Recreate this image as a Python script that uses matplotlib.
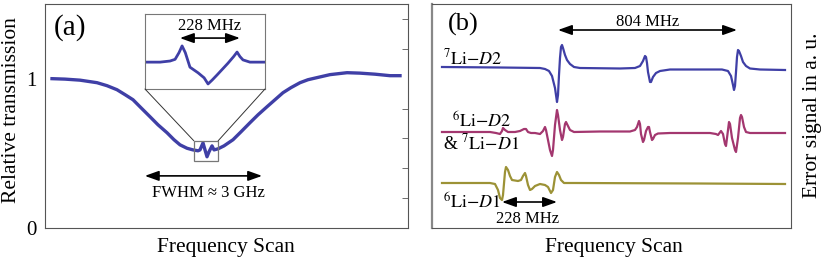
import matplotlib
matplotlib.use("Agg")
import matplotlib.pyplot as plt
from matplotlib.patches import Rectangle, ConnectionPatch

plt.rcParams["font.family"] = ["Liberation Serif", "DejaVu Serif"]
plt.rcParams["mathtext.fontset"] = "stix"

# ---- panel (a): Doppler-broadened transmission, scan in a.u. (0-100)
scan_a = [1.93, 5.51, 9.64, 14.33, 17.08, 19.83, 22.04, 24.24, 26.45, 28.93,
          31.13, 33.61, 35.54, 37.19, 39.12, 40.77, 42.15, 42.70, 43.53, 44.08,
          44.63, 45.18, 45.45, 46.01, 46.56, 47.66, 49.31, 51.79, 53.99, 56.47,
          58.68, 61.16, 63.36, 65.56, 67.77, 70.25, 72.45, 74.93, 78.51, 83.20,
          86.78, 90.91, 95.04, 97.80]
trans_a = [1.000, 0.997, 0.990, 0.973, 0.953, 0.926, 0.893, 0.859, 0.805, 0.745,
           0.691, 0.638, 0.591, 0.557, 0.534, 0.523, 0.517, 0.523, 0.570, 0.523,
           0.477, 0.510, 0.523, 0.550, 0.523, 0.530, 0.550, 0.591, 0.644, 0.705,
           0.758, 0.812, 0.859, 0.906, 0.940, 0.973, 0.993, 1.007, 1.027, 1.040,
           1.037, 1.030, 1.020, 1.020]

# zoomed sub-Doppler feature (inset)
inset_scan = [41.11, 41.84, 42.40, 42.68, 42.90, 43.07, 43.25, 43.51, 43.96,
              44.30, 44.52, 44.75, 45.02, 45.63, 45.95, 46.14, 46.30, 46.47,
              46.86, 47.64]
inset_trans = [0.498, 0.498, 0.500, 0.503, 0.515, 0.527, 0.515, 0.489, 0.479,
               0.470, 0.459, 0.466, 0.475, 0.496, 0.508, 0.516, 0.508, 0.502,
               0.498, 0.498]
zoom_x, zoom_y = (41.0, 47.7), (0.450, 0.584)

# ---- panel (b): error signals, scan index, signal relative to each baseline
d2_7_x = [10, 68, 108, 113, 117, 120, 123, 125, 126, 127, 128, 129, 130, 131, 133,
          135, 138, 142, 148, 188, 203, 208, 211, 213, 214, 215, 216, 218, 219,
          221, 224, 228, 238, 290, 296, 299, 301, 302, 303, 304, 305, 306, 307,
          309, 311, 314, 318, 328, 353]
d2_7_s = [1, 0.5, 0, -1, -3, -8, -20, -34, -27, -7, 10, 21, 23, 20, 13, 8, 4, 1, 0,
          -0.5, 0, 2, 7, 12, 11, 5, -4, -14, -14, -9, -5, -3, -1.5, -1.5, -3, -8,
          -17, -22, -18, -4, 11, 18, 17, 12, 6, 2, -0.5, -1.5, -2]

d2_6_x = [10, 58, 64, 68, 70, 71, 73, 76, 83, 88, 92, 94, 96, 99, 103, 108, 111,
          113, 114, 116, 118, 120, 121, 123, 125, 126, 128, 130, 131, 133, 134,
          136, 138, 142, 168, 198, 203, 205, 207, 208, 209, 211, 212, 214, 216,
          217, 218, 220, 221, 223, 226, 238, 278, 284, 286, 289, 291, 293, 294,
          295, 297, 298, 300, 303, 304, 306, 308, 309, 310, 312, 314, 318, 353]
d2_6_s = [0, 0, -1, -2, 1, 4, 2, 0, 0, 1, 3, 3, 0, -1, -1, -2, 1, 5, 2, -8, -18,
          -24, -18, 7, 22, 17, 2, -8, -5, 8, 10, 6, 2, 0, 0.5, 0.5, 2, 5, 11, 8,
          -2, -10, -8, 1, 5, 5, 0, -8, -7, -3, -1.5, -1, -1, -2, -3, 1, -2, -12,
          -14, -6, 10, 8, -6, -18, -20, -6, 14, 17, 15, 5, 0, -1, -1]

d1_6_x = [10, 58, 63, 66, 68, 70, 71, 73, 74, 76, 78, 80, 86, 89, 91, 93, 94, 96,
          98, 100, 103, 108, 113, 116, 119, 121, 123, 125, 127, 129, 132, 143,
          268, 353]
d1_6_s = [0, 0, -1, -7, -15, -17, -12, 11, 16, 13, 7, 3, 2, 3, 7, 10, 7, -2, -7,
          -6, -3, -1, -2, -4, -10, -7, 6, 11, 8, 3, 0, 0, -0.5, -1]

offsets = [160, 96, 45]
colors = ["#3f3fa6", "#a3376f", "#9c9236"]

fig = plt.figure(figsize=(8.3, 2.63), dpi=100)
ax = fig.add_axes([45 / 830, 35 / 263, 363 / 830, 224 / 263])
axb = fig.add_axes([432 / 830, 35 / 263, 359 / 830, 224 / 263])
axins = fig.add_axes([145 / 830, 174 / 263, 120 / 830, 75 / 263])

frame = "#555555"
arrow = dict(arrowstyle="<|-|>,head_length=0.7,head_width=0.25", color="black",
             lw=1.2, shrinkA=0, shrinkB=0, mutation_scale=12)

# panel (a)
ax.plot(scan_a, trans_a, color=colors[0], lw=2.4)
ax.set_xlim(0, 100); ax.set_ylim(0, 1.5)
ax.set_xticks([])
ax.set_yticks([0, 1]); ax.set_yticklabels(["0", "1"], fontsize=15)
ax.tick_params(axis="y", length=0, pad=6)
ax.set_yticks([0.2, 0.4, 0.6, 0.8, 1.0, 1.2, 1.4], minor=True)
ax.tick_params(axis="y", which="minor", right=True, left=False, direction="in",
               length=4, color=frame)
for s in ax.spines.values():
    s.set_color(frame)
ax.set_ylabel("Relative transmission", fontsize=15.5, ha="center", va="center")
ax.yaxis.set_label_coords(-0.091, 0.527)
ax.set_xlabel("Frequency Scan", fontsize=15.5, ha="center", va="center")
ax.xaxis.set_label_coords(0.499, -0.089)
ax.text(0.069, 0.895, "(a)", transform=ax.transAxes, fontsize=21, ha="center",
        va="center")
ax.annotate("", xy=(27.5, 0.349), xytext=(59.8, 0.349), arrowprops=arrow)
ax.text(44.9, 0.235, "FWHM \u2248 3 GHz", fontsize=12, ha="center", va="center")
ax.add_patch(Rectangle((zoom_x[0], zoom_y[0]), zoom_x[1] - zoom_x[0],
                       zoom_y[1] - zoom_y[0], fill=False, ec="#777777", lw=0.9,
                       zorder=3))

axins.plot(inset_scan, inset_trans, color=colors[0], lw=2.0)
axins.set_xlim(*zoom_x); axins.set_ylim(*zoom_y)
axins.set_xticks([]); axins.set_yticks([])
for s in axins.spines.values():
    s.set_color("#777777")
axins.annotate("", xy=(42.95, 0.541), xytext=(46.30, 0.541), arrowprops=arrow)
axins.text(44.6, 0.562, "228 MHz", fontsize=12, ha="center", va="center")
for xa, xb in [(zoom_x[0], 0), (zoom_x[1], 1)]:
    con = ConnectionPatch(xyA=(xa, zoom_y[1]), coordsA=ax.transData,
                          xyB=(xb, 0), coordsB=axins.transAxes, color="#333333",
                          lw=0.7)
    fig.add_artist(con)

# panel (b)
for (xs, ss), off, c in zip([(d2_7_x, d2_7_s), (d2_6_x, d2_6_s), (d1_6_x, d1_6_s)],
                            offsets, colors):
    axb.plot(xs, [off + v for v in ss], color=c, lw=1.6)
axb.set_xlim(0, 359); axb.set_ylim(0, 224)
axb.set_xticks([]); axb.set_yticks([])
for s in axb.spines.values():
    s.set_color(frame)
axb.spines["left"].set_color("#888888"); axb.spines["left"].set_linewidth(1.6)
axb.set_xlabel("Frequency Scan", fontsize=15.5, ha="center", va="center")
axb.xaxis.set_label_coords(0.506, -0.089)
axb.yaxis.set_label_position("right")
axb.set_ylabel("Error signal in a. u.", fontsize=15.5, ha="center", va="center",
               rotation=90)
axb.yaxis.set_label_coords(1.061, 0.502)
axb.text(31, 204, "(b)", fontsize=19, ha="center", va="center")
axb.text(11, 170, r"$^{7}\mathrm{Li}{-}D2$", fontsize=13, ha="left", va="center")
axb.text(20, 106, r"$^{6}\mathrm{Li}{-}D2$", fontsize=13, ha="left", va="center")
axb.text(11, 85, r"& $^{7}\mathrm{Li}{-}D1$", fontsize=13, ha="left", va="center")
axb.text(11, 25, r"$^{6}\mathrm{Li}{-}D1$", fontsize=13, ha="left", va="center")
axb.annotate("", xy=(126, 198), xytext=(305, 198), arrowprops=arrow)
axb.text(216, 206, "804 MHz", fontsize=12, ha="center", va="center")
axb.annotate("", xy=(70, 26), xytext=(125, 26), arrowprops=arrow)
axb.text(96, 9, "228 MHz", fontsize=12, ha="center", va="center")

fig.savefig("out.png", dpi=100)
